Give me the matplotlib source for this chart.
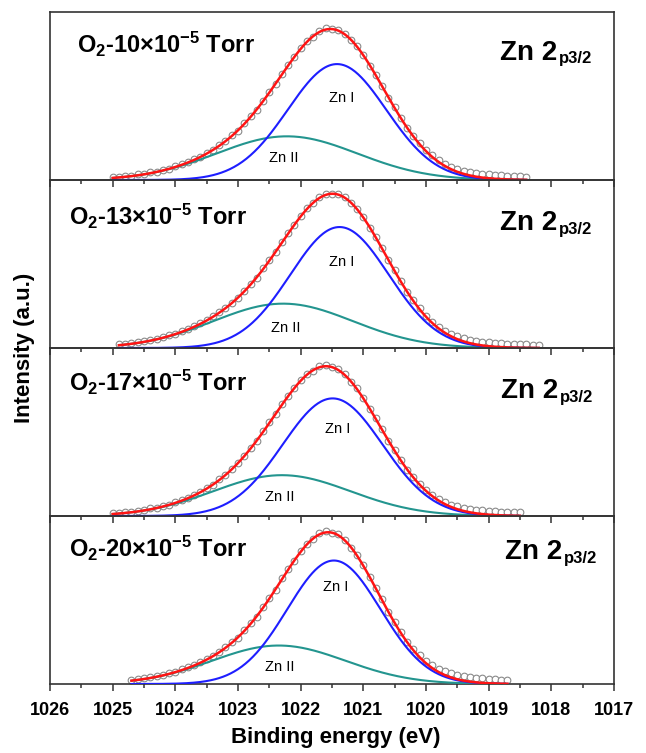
import numpy as np
import matplotlib
matplotlib.use("Agg")
import matplotlib.pyplot as plt

plt.rcParams.update({
    "font.family": ["Liberation Sans", "DejaVu Sans"],
    "font.weight": "bold",
    "mathtext.fontset": "custom",
    "mathtext.rm": "Liberation Sans:bold",
    "mathtext.it": "Liberation Sans:bold",
    "mathtext.bf": "Liberation Sans:bold",
    "mathtext.default": "rm",
})

# ---- data ----
pressures = [10, 13, 17, 20]          # O2 pressure, x10^-5 Torr
first_energy = [1025.0, 1024.9, 1025.0, 1024.7]   # eV, data step 0.1 eV towards lower BE

counts_10 = [0.017, 0.019, 0.024, 0.026, 0.033, 0.037, 0.045, 0.050, 0.061, 0.068,
             0.081, 0.094, 0.106, 0.124, 0.139, 0.160, 0.178, 0.207, 0.233, 0.266,
             0.294, 0.338, 0.379, 0.418, 0.473, 0.524, 0.571, 0.633, 0.685, 0.730,
             0.786, 0.826, 0.853, 0.887, 0.902, 0.896, 0.894, 0.871, 0.832, 0.798,
             0.747, 0.681, 0.627, 0.561, 0.490, 0.434, 0.372, 0.309, 0.264, 0.218,
             0.176, 0.146, 0.117, 0.097, 0.079, 0.066, 0.056, 0.049, 0.041, 0.038,
             0.033, 0.031, 0.027, 0.026, 0.023, 0.022, 0.020]
counts_13 = [0.021, 0.024, 0.029, 0.033, 0.041, 0.046, 0.055, 0.063, 0.075, 0.086,
             0.101, 0.113, 0.128, 0.148, 0.166, 0.190, 0.212, 0.241, 0.270, 0.298,
             0.342, 0.381, 0.419, 0.474, 0.525, 0.570, 0.632, 0.685, 0.731, 0.788,
             0.832, 0.862, 0.899, 0.916, 0.914, 0.919, 0.898, 0.862, 0.830, 0.781,
             0.716, 0.661, 0.594, 0.521, 0.463, 0.398, 0.332, 0.284, 0.236, 0.190,
             0.157, 0.126, 0.103, 0.084, 0.069, 0.058, 0.050, 0.043, 0.038, 0.034,
             0.031, 0.028, 0.026, 0.024, 0.023, 0.021, 0.020, 0.018]
counts_17 = [0.016, 0.019, 0.023, 0.025, 0.032, 0.036, 0.045, 0.050, 0.061, 0.068,
             0.082, 0.095, 0.108, 0.127, 0.144, 0.167, 0.186, 0.218, 0.247, 0.282,
             0.313, 0.360, 0.405, 0.446, 0.505, 0.557, 0.605, 0.666, 0.717, 0.759,
             0.810, 0.845, 0.865, 0.891, 0.897, 0.884, 0.874, 0.844, 0.798, 0.759,
             0.704, 0.636, 0.581, 0.516, 0.446, 0.393, 0.334, 0.274, 0.234, 0.192,
             0.153, 0.126, 0.102, 0.083, 0.068, 0.057, 0.049, 0.043, 0.038, 0.034,
             0.031, 0.029, 0.026, 0.025, 0.022, 0.021]
counts_20 = [0.024, 0.028, 0.035, 0.039, 0.048, 0.054, 0.064, 0.073, 0.087, 0.099,
             0.114, 0.129, 0.149, 0.168, 0.193, 0.218, 0.249, 0.276, 0.320, 0.362,
             0.401, 0.459, 0.512, 0.562, 0.628, 0.684, 0.733, 0.792, 0.835, 0.863,
             0.897, 0.908, 0.899, 0.890, 0.859, 0.811, 0.768, 0.708, 0.634, 0.573,
             0.503, 0.428, 0.371, 0.309, 0.249, 0.209, 0.170, 0.137, 0.111, 0.091,
             0.076, 0.063, 0.055, 0.048, 0.042, 0.037, 0.033, 0.030, 0.027, 0.025,
             0.023]
all_counts = [counts_10, counts_13, counts_17, counts_20]

# fitted components: position (eV), height, FWHM (eV)
zn1_pos = [1021.42, 1021.38, 1021.49, 1021.47]
zn1_height = [0.690, 0.720, 0.700, 0.735]
zn1_fwhm = [1.85, 1.85, 1.88, 1.75]
zn2_pos = [1022.22, 1022.28, 1022.30, 1022.35]
zn2_height = [0.260, 0.264, 0.243, 0.229]
zn2_fwhm = [2.65, 2.62, 2.58, 2.50]

# label positions (per panel)
zn1_label = [(1021.35, 0.49), (1021.35, 0.51), (1021.41, 0.52), (1021.44, 0.575)]
zn2_label = [(1022.27, 0.13), (1022.24, 0.12), (1022.33, 0.115), (1022.33, 0.10)]
cond_xy = [(0.047, 0.756), (0.034, 0.730), (0.034, 0.746), (0.034, 0.758)]
zn_xy = [(0.899, 0.717), (0.899, 0.700), (0.901, 0.700), (0.908, 0.742)]

C_DATA = "#8a8a8a"
C_FIT = "#ff1414"
C_ZN1 = "#1e1eff"
C_ZN2 = "#23958f"


def gauss(x, pos, h, fwhm):
    return h * np.exp(-4 * np.log(2) * ((x - pos) / fwhm) ** 2)


fig = plt.figure(figsize=(6.46, 7.53), dpi=100)
left, right, bottom, top = 50 / 646, 614 / 646, 1 - 684 / 753, 1 - 12 / 753
ph = (top - bottom) / 4
axes = []
for i in range(4):
    ax = fig.add_axes([left, top - (i + 1) * ph, right - left, ph])
    ax.set_facecolor("none")
    axes.append(ax)

for i, ax in enumerate(axes):
    y = np.array(all_counts[i])
    e = np.round(first_energy[i] - 0.1 * np.arange(len(y)), 2)
    ex = np.linspace(e[0], e[-1], 400)
    c1 = gauss(ex, zn1_pos[i], zn1_height[i], zn1_fwhm[i])
    c2 = gauss(ex, zn2_pos[i], zn2_height[i], zn2_fwhm[i])

    ax.plot(e, y, "o", ms=4.8, mfc="white", mec=C_DATA, mew=0.8, zorder=2)
    ax.plot(ex, c2, color=C_ZN2, lw=1.5, zorder=3)
    ax.plot(ex, c1, color=C_ZN1, lw=1.5, zorder=3)
    ax.plot(ex, c1 + c2, color=C_FIT, lw=1.8, zorder=4)

    ax.text(*zn1_label[i], "Zn I", fontsize=10.5, fontweight="normal", ha="center", va="center")
    ax.text(*zn2_label[i], "Zn II", fontsize=10.5, fontweight="normal", ha="center", va="center")

    ax.text(*cond_xy[i], "O$_2$-%d×10$^{-5}$ Torr" % pressures[i], transform=ax.transAxes,
            fontsize=17, fontweight="bold", ha="left", va="baseline")
    zx, zy = zn_xy[i]
    ax.text(zx, zy, "Zn 2", transform=ax.transAxes, fontsize=20, fontweight="bold",
            ha="right", va="baseline")
    ax.text(zx + 0.003, zy - 0.02, "p3/2", transform=ax.transAxes, fontsize=12,
            fontweight="bold", ha="left", va="baseline")

    ax.set_xlim(1026, 1017)
    ax.set_ylim(0, 1)
    ax.set_yticks([])
    ax.set_xticks(np.arange(1017, 1027, 1))
    ax.set_xticks(np.arange(1017.5, 1026, 1), minor=True)
    ax.tick_params(axis="x", which="major", direction="out", length=5, width=1.1,
                   labelsize=13, pad=8, color="#333333")
    ax.tick_params(axis="x", which="minor", direction="out", length=3, width=1.1, color="#333333")
    if i < 3:
        ax.tick_params(axis="x", labelbottom=False)
    for s in ax.spines.values():
        s.set_color("#333333")
        s.set_linewidth(1.2)

for lab in axes[3].get_xticklabels():
    lab.set_fontweight("bold")

fig.text((left + right) / 2 + 0.006, 1 - 737 / 753, "Binding energy (eV)", fontsize=16,
         fontweight="bold", ha="center", va="center")
fig.text(25 / 646, 1 - 348 / 753, "Intensity (a.u.)", fontsize=16, fontweight="bold",
         ha="center", va="center", rotation=90)

fig.savefig("out.png", dpi=100)
